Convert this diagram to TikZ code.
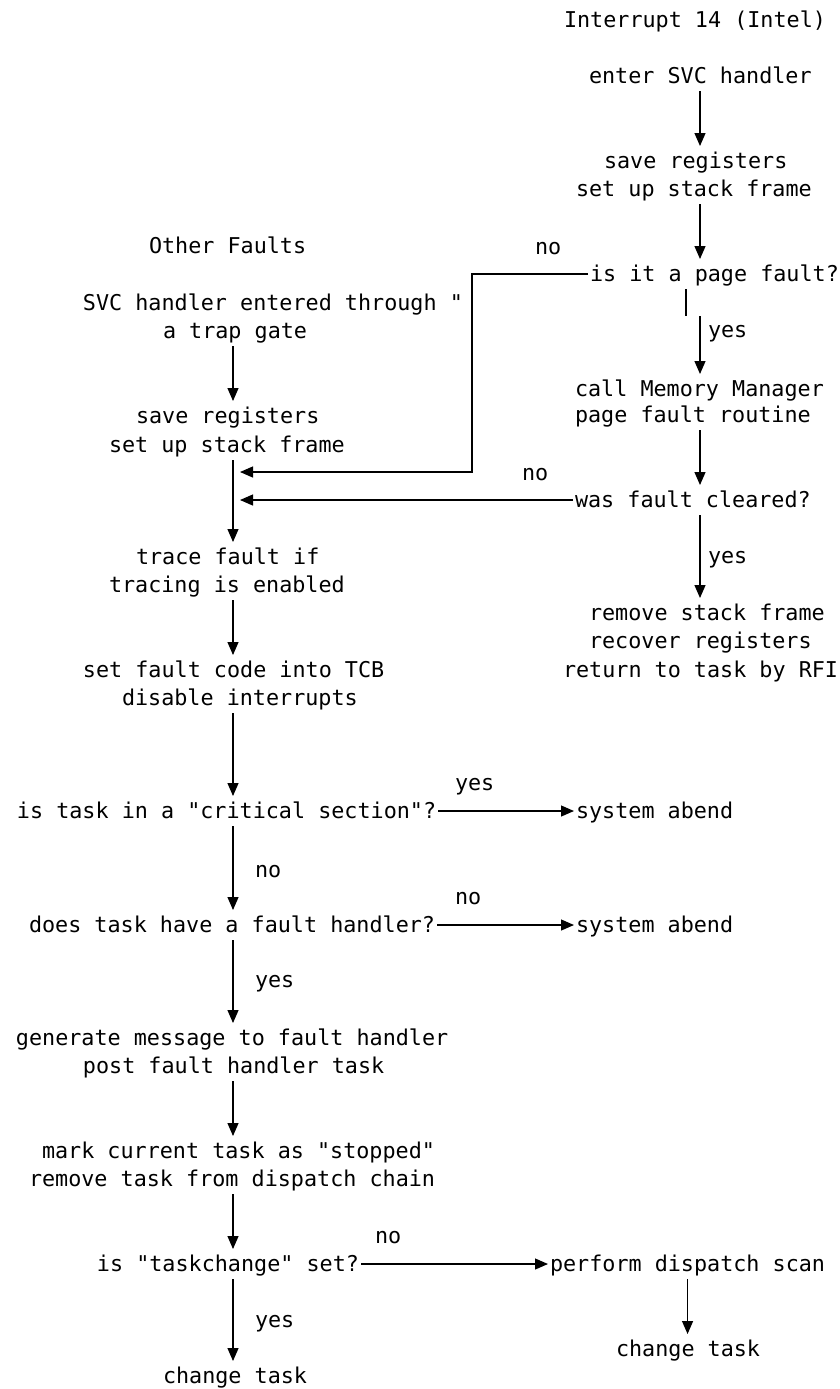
\documentclass[tikz,border=0pt]{standalone}
\usepackage{fontspec}
\setmonofont{DejaVu Sans Mono}
\usepackage{tikz}
\usetikzlibrary{arrows.meta}

\begin{document}
\begin{tikzpicture}[x=0.5pt, y=-0.5pt,
    txt/.style={anchor=base west, inner sep=0, outer sep=1pt, text height=10pt, text depth=3pt,
      font=\ttfamily\fontsize{10.88}{13}\selectfont},
    arr/.style={black, line width=0.6pt, -{Triangle[length=6.5pt,width=5.5pt]}}]
  \useasboundingbox (0,0) rectangle (840,1389);
  \coordinate (lcol) at (233,0);
  \coordinate (rcol) at (700,0);

  \node[txt] (intel) at (562,27) {Interrupt 14 (Intel)};
  \node[txt] (enter) at (587,83) {enter SVC handler};
  \node[txt] (rsave1) at (602,168) {save registers};
  \node[txt] (rsave2) at (574,196) {set up stack frame};
  \node[txt] (pf) at (588,281) {is it a page fault?};
  \node[txt] (mm1) at (573,396) {call Memory Manager};
  \node[txt] (mm2) at (573,422) {page fault routine};
  \node[txt] (cleared) at (573,507) {was fault cleared?};
  \node[txt] (rem1) at (587,620) {remove stack frame};
  \node[txt] (rem2) at (587,648) {recover registers};
  \node[txt] (rem3) at (561,677) {return to task by RFI};

  \node[txt] (other) at (147,253) {Other Faults};
  \node[txt] (trap1) at (81,310) {SVC handler entered through "};
  \node[txt] (trap2) at (161,338) {a trap gate};
  \node[txt] (lsave1) at (134,423) {save registers};
  \node[txt] (lsave2) at (107,452) {set up stack frame};
  \node[txt] (trace1) at (134,564) {trace fault if};
  \node[txt] (trace2) at (107,592) {tracing is enabled};
  \node[txt] (tcb1) at (81,677) {set fault code into TCB};
  \node[txt] (tcb2) at (120,705) {disable interrupts};
  \node[txt] (crit) at (15,818) {is task in a "critical section"?};
  \node[txt] (abend1) at (574,818) {system abend};
  \node[txt] (handler) at (27,932) {does task have a fault handler?};
  \node[txt] (abend2) at (574,932) {system abend};
  \node[txt] (gen1) at (14,1045) {generate message to fault handler};
  \node[txt] (gen2) at (81,1073) {post fault handler task};
  \node[txt] (mark1) at (40,1158) {mark current task as "stopped"};
  \node[txt] (mark2) at (27,1186) {remove task from dispatch chain};
  \node[txt] (tchange) at (95,1271) {is "taskchange" set?};
  \node[txt] (scan) at (548,1271) {perform dispatch scan};
  \node[txt] (change1) at (161,1383) {change task};
  \node[txt] (change2) at (614,1356) {change task};

  \node[txt] (pfno) at (533,254) {no};
  \node[txt] (pfyes) at (706,337) {yes};
  \node[txt] (clno) at (520,480) {no};
  \node[txt] (clyes) at (706,563) {yes};
  \node[txt] (crityes) at (453,790) {yes};
  \node[txt] (critno) at (253,877) {no};
  \node[txt] (handno) at (453,904) {no};
  \node[txt] (handyes) at (253,987) {yes};
  \node[txt] (tchno) at (373,1243) {no};
  \node[txt] (tchyes) at (253,1327) {yes};

  \draw[arr] (enter.south -| rcol) -- (rsave1.north -| rcol);
  \draw[arr] (rsave2.south -| rcol) -- (pf.north -| rcol);
  \coordinate (jog) at (472,472);
  \coordinate (join1) at (240,472);
  \draw[arr] (pf.west) -| (jog) -- (join1);
  \coordinate (stub) at (686,316);
  \draw[line width=0.6pt] (pf.south -| stub) -- (stub);
  \draw[arr] (stub -| rcol) -- (mm1.north -| rcol);
  \draw[arr] (mm2.south -| rcol) -- (cleared.north -| rcol);
  \draw[arr] (cleared.west) -- (cleared.west -| join1);
  \draw[arr] (cleared.south -| rcol) -- (rem1.north -| rcol);

  \draw[arr] (trap2.south -| lcol) -- (lsave1.north -| lcol);
  \draw[arr] (lsave2.south -| lcol) -- (trace1.north -| lcol);
  \draw[arr] (trace2.south -| lcol) -- (tcb1.north -| lcol);
  \draw[arr] (tcb2.south -| lcol) -- (crit.north -| lcol);
  \draw[arr] (crit.east) -- (abend1.west);
  \draw[arr] (crit.south -| lcol) -- (handler.north -| lcol);
  \draw[arr] (handler.east) -- (abend2.west);
  \draw[arr] (handler.south -| lcol) -- (gen1.north -| lcol);
  \draw[arr] (gen2.south -| lcol) -- (mark1.north -| lcol);
  \draw[arr] (mark2.south -| lcol) -- (tchange.north -| lcol);
  \draw[arr] (tchange.east) -- (scan.west);
  \draw[arr] (tchange.south -| lcol) -- (change1.north -| lcol);
  \draw[arr] (scan.south) -- (scan.south |- change2.north);
\end{tikzpicture}
\end{document}
